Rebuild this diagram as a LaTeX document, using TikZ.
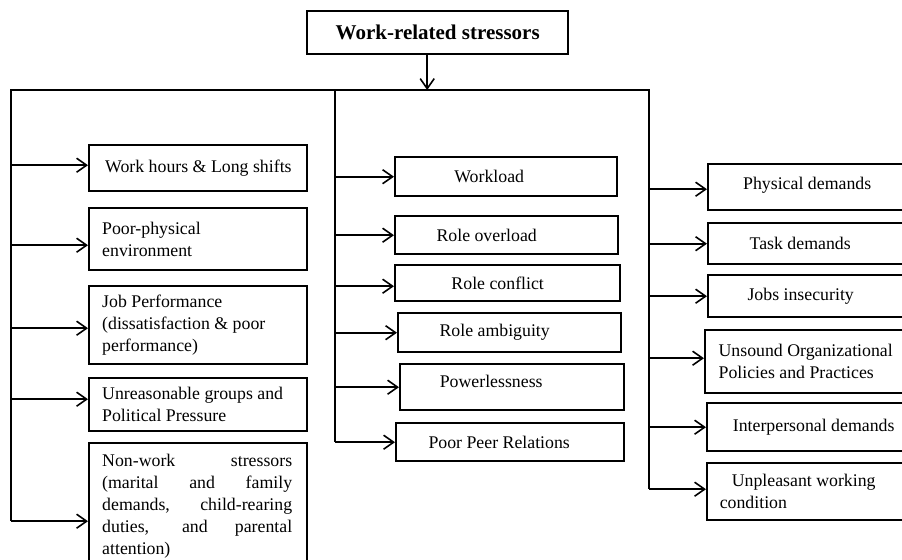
\documentclass[tikz,border=0pt]{standalone}
\usepackage{fontspec}
\setmainfont{Liberation Serif}
\usetikzlibrary{arrows.meta}

\tikzset{
  stressor/.style={draw, line width=1.2pt, anchor=north west, inner sep=2pt, font=\fontsize{8.9}{11}\selectfont},
  leftbox/.style={stressor, text width=96pt, inner xsep=6.5pt, align=flush left},
  link/.style={line width=0.8pt},
  arr/.style={link, -{Straight Barb[length=5pt,width=7pt]}},
}

\begin{document}
\begin{tikzpicture}[x=0.5pt, y=-0.5pt]
	\useasboundingbox (0,0) rectangle (902,559);
	\clip (0,0) rectangle (902,559);
	
	% main box
	\node[stressor, minimum width=130.5pt, minimum height=21.5pt, font=\fontsize{10.5}{12}\selectfont\bfseries] (main) at (306,10) {Work-related stressors};
	
	% trunk coordinates
	\coordinate (L) at (11,90);
	\coordinate (M) at (335,90);
	\coordinate (R) at (649,90);
	
	% left column
	\node[leftbox, minimum height=23pt] (hours) at (88,144) {\hspace*{1.5pt}Work hours \& Long shifts};
	\node[leftbox, minimum height=31pt] (env) at (88,207) {Poor-physical\\environment};
	\node[leftbox, minimum height=39pt] (perf) at (88,285) {Job Performance\\(dissatisfaction \& poor\\performance)};
	\node[leftbox, minimum height=26.5pt] (polit) at (88,377) {Unreasonable groups and\\Political Pressure};
	\node[leftbox, minimum height=63pt] (nonwork) at (88,442) {\makebox[95pt][s]{Non-work stressors}\\\makebox[95pt][s]{(marital and family}\\\makebox[95pt][s]{demands, child-rearing}\\\makebox[95pt][s]{duties, and parental}\\attention)};
	
	% middle column
	\node[stressor, minimum width=111pt, minimum height=19.5pt] (workload) at (394,156) {\hspace{-17pt}Workload};
	\node[stressor, minimum width=111.5pt, minimum height=19pt] (overload) at (394,215) {\hspace{-20pt}Role overload};
	\node[stressor, minimum width=112.5pt, minimum height=18pt] (conflict) at (394,264) {\hspace{-10pt}Role conflict};
	\node[stressor, minimum width=111.5pt, minimum height=19.5pt] (ambiguity) at (397,312) {\hspace{-15pt}Role ambiguity};
	\node[stressor, minimum width=112pt, minimum height=23pt] (powerless) at (399,363) {\hspace{-21pt}\raisebox{6pt}{Powerlessness}};
	\node[stressor, minimum width=114pt, minimum height=19pt] (peer) at (395,422) {\hspace{-11pt}Poor Peer Relations};
	
	% right column
	\node[stressor, minimum width=99pt, minimum height=23pt] (physical) at (707,163) {\raisebox{4pt}{Physical demands}};
	\node[stressor, minimum width=99pt, minimum height=20.5pt] (task) at (707,222) {\hspace{-7pt}Task demands};
	\node[stressor, minimum width=99pt, minimum height=21pt] (jobs) at (707,274) {\hspace{-6.5pt}Jobs insecurity};
	\node[stressor, minimum width=100.5pt, minimum height=31.5pt, align=left] (unsound) at (704,329) {Unsound Organizational\\Policies and Practices};
	\node[stressor, minimum width=99.5pt, minimum height=24pt] (interpersonal) at (706,402) {\hspace{7pt}Interpersonal demands};
	\node[stressor, minimum width=99.5pt, minimum height=28.5pt, align=left] (unpleasant) at (706,462) {\hspace*{6pt}Unpleasant working\hspace*{9pt}\\condition};
	
	% connectors
	\draw[arr] ([xshift=-5.25pt]main.south) -- ([xshift=-5.25pt]main.south |- L);
	\draw[link] ([yshift=-7.5pt]L |- nonwork.west) -- (L) -- (R) -- ([yshift=1.25pt]R |- unpleasant.west);
	\draw[link] (M) -- (M |- peer.west);
	
	\foreach \n/\s in {hours/1.5pt, env/-3pt, perf/-1.5pt, polit/2.75pt, nonwork/-7.5pt}
		\draw[arr] ([yshift=\s]L |- \n.west) -- ([yshift=\s]\n.west);
	\foreach \n/\s in {workload/0pt, overload/0pt, conflict/-1.5pt, ambiguity/0pt, powerless/0pt, peer/0pt}
		\draw[arr] ([yshift=\s]M |- \n.west) -- ([yshift=\s]\n.west);
	\foreach \n/\s in {physical/-1pt, task/0pt, jobs/0pt, unsound/1.75pt, interpersonal/0pt, unpleasant/1.25pt}
		\draw[arr] ([yshift=\s]R |- \n.west) -- ([yshift=\s]\n.west);
\end{tikzpicture}
\end{document}
